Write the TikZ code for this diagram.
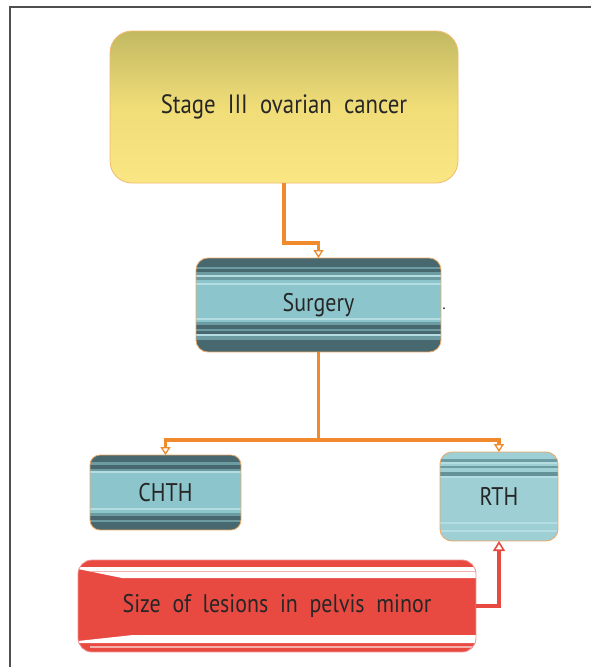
\documentclass[tikz,border=0pt]{standalone}
\usepackage{fontspec}
\setmainfont{PT Sans}[FakeStretch=0.86]
\usetikzlibrary{arrows.meta}
\definecolor{olive}{HTML}{C2B962}
\definecolor{ylw}{HTML}{FAE784}
\definecolor{ymid}{HTML}{F0DD78}
\definecolor{tlight}{HTML}{8CC6CC}
\definecolor{tvl}{HTML}{B4DDE1}
\definecolor{tmid}{HTML}{6C9CA2}
\definecolor{tdark}{HTML}{46686E}
\definecolor{orng}{HTML}{F08A2C}
\definecolor{edge}{HTML}{EDA765}
\definecolor{rd}{HTML}{E84A42}
\definecolor{pinkl}{HTML}{F4B0AA}
\definecolor{frame}{HTML}{505050}
\tikzset{
  box/.style={rounded corners=12, draw=edge, line width=0.8, inner sep=0, outer sep=0,
    font=\fontsize{25.5}{30}\selectfont, text=black!85},
  conn/.style={draw=orng, line width=3.2, -{Triangle[open, length=8, width=10, line width=1.3]}},
  line/.style={draw=orng, line width=3.2},
  rconn/.style={draw=rd, line width=3.2, -{Triangle[open, length=10, width=12, line width=1.6]}},
}
\begin{document}
\begin{tikzpicture}[x=1pt, y=-1pt]
\useasboundingbox (0,0) rectangle (591,667);
\fill[white] (0,0) rectangle (591,667);
\draw[frame, line width=1.4] (591,7) -- (10,7) -- (10,667);

% Yellow box
\node[box, rounded corners=22, minimum width=348, minimum height=152,
  top color=olive, bottom color=ylw, middle color=ymid, draw=edge!70!ylw,
  font=\fontsize{26.5}{30}\selectfont]
  (Y) at (284,107) {Stage\ \ III\ \ ovarian\ \ cancer};

% Surgery stripes
\begin{scope}
\clip[rounded corners=12] (196,258) rectangle (441,352);
\fill[tlight] (196,258) rectangle (441,352);
\foreach \a/\b/\c in {258/267/tdark, 267/269/tmid, 269/272/tdark, 272/275/tmid, 275/277/tvl, 277/280/tmid,
  280/283/tlight, 283/285/tvl, 318/320/tvl, 322/325/tmid, 325/329/tdark, 329/331/tmid, 331/334/tdark,
  334/336/tvl, 336/340/tmid, 340/352/tdark}
  \fill[\c] (196,\a) rectangle (441,\b);
\end{scope}
\node[box, minimum width=245, minimum height=94] (S) at (318.5,305) {Surgery};
\node[inner sep=0, font=\fontsize{16}{16}\selectfont] (dot) at (444,309) {.};

% CHTH stripes
\begin{scope}
\clip[rounded corners=10] (90,455) rectangle (241,530);
\fill[tlight] (90,455) rectangle (241,530);
\foreach \a/\b/\c in {455/462/tdark, 462/465/tmid, 465/469/tdark, 469/471/tmid, 471/473/tvl,
  508/510/tvl, 513/516/tmid, 516/520/tdark, 520/522/tmid, 522/530/tdark}
  \fill[\c] (90,\a) rectangle (241,\b);
\end{scope}
\node[box, rounded corners=10, minimum width=151, minimum height=75] (C) at (165.5,492.5) {CHTH};

% RTH stripes
\begin{scope}
\clip[rounded corners=12] (440,452) rectangle (558,541);
\fill[tlight!85!white] (440,452) rectangle (558,541);
\foreach \a/\b/\c in {459/462/tmid, 462/464/tvl, 466/468/tmid, 472/476/tmid!80!tdark, 476/478/tvl,
  522/524/tvl, 530/532/tvl}
  \fill[\c] (440,\a) rectangle (558,\b);
\end{scope}
\node[box, minimum width=118, minimum height=89] (R) at (499,496.5) {RTH};

% Red box
\begin{scope}
\clip[rounded corners=14] (78,560) rectangle (476,652);
\fill[rd] (78,560) rectangle (476,652);
\fill[white] (78,567) -- (476,567) -- (476,578) -- (122,578) -- (78,569) -- cycle;
\fill[white] (78,643) -- (476,643) -- (476,635) -- (133,635) -- (78,641) -- cycle;
\fill[pinkl] (90,571) rectangle (476,572);
\fill[pinkl] (90,646) rectangle (476,648);
\end{scope}
\node[box, rounded corners=14, draw=rd!60!white, minimum width=398, minimum height=92]
  (L) at (277,606) {Size\ \ of\ \ lesions\ \ in\ \ pelvis\ \ minor};

% Connectors
\coordinate (m1) at (318.5,243);
\coordinate (j) at (318.5,440);
\draw[conn] (Y.south) |- (m1) -- (S.north);
\draw[line] (S.south) -- (j);
\draw[conn] (j) -| (C.north);
\draw[conn] (j) -| (R.north);
\draw[rconn] (L.east) -| (R.south);
\end{tikzpicture}
\end{document}
